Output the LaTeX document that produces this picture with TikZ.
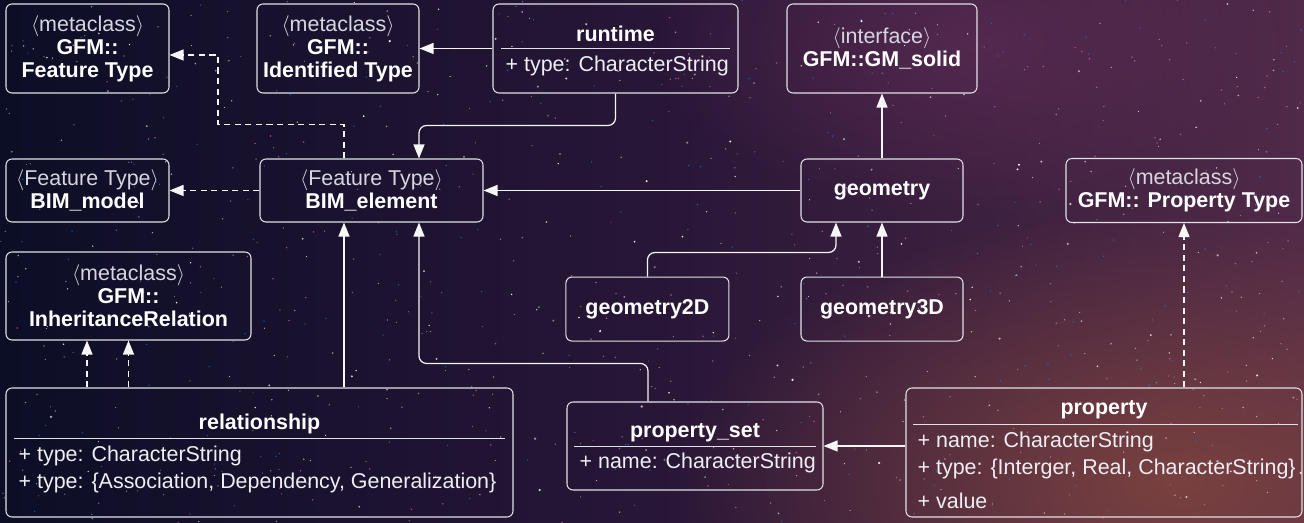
\documentclass[tikz,border=0pt]{standalone}
\usepackage{fontspec}
\setmainfont{Liberation Sans}
\usetikzlibrary{arrows.meta,positioning,calc,fadings}
\definecolor{skyleft}{RGB}{12,14,38}
\definecolor{skymid}{RGB}{40,22,55}
\definecolor{skyright}{RGB}{80,42,72}
\definecolor{glowwarm}{RGB}{130,70,62}
\definecolor{glowpink}{RGB}{100,46,90}
\definecolor{boxline}{RGB}{225,225,232}
\definecolor{stereotext}{RGB}{214,214,224}
\definecolor{attrtext}{RGB}{238,238,244}
\definecolor{arrow}{RGB}{246,246,246}
\tikzfading[name=glowfade, inner color=transparent!0, outer color=transparent!100]
\newcommand{\stype}[1]{\textcolor{stereotext}{$\langle$#1$\rangle$}}

\begin{document}
\begin{tikzpicture}[
  % UML styling
  every node/.style={font=\fontsize{12.2}{13}\selectfont, text=white},
  umlbox/.style={
    draw=boxline,
    rounded corners=0.12cm,
    line width=0.6pt,
    align=center,
    inner sep=0pt
  },
  ctitle/.style={font=\fontsize{12.2}{13}\selectfont\bfseries},
  attr/.style={anchor=west, text=attrtext},
  divider/.style={draw=boxline, line width=0.6pt},
  arr/.style={
    -{Triangle[length=0.28cm, width=0.22cm]},
    color=arrow,
    line width=0.7pt
  },
  darr/.style={arr, dash pattern=on 3.5pt off 2.5pt},
  roundpath/.style={rounded corners=0.15cm}
]
\useasboundingbox (0,0) rectangle (26.08,10.46);

% Night sky
\begin{scope}
\clip (0,0) rectangle (26.08,10.46);
\fill[left color=skyleft, right color=skyright, middle color=skymid] (0,0) rectangle (26.08,10.46);
\fill[glowwarm, path fading=glowfade, opacity=0.85] (23.5,0.8) ellipse (10cm and 5.5cm);
\fill[glowpink, path fading=glowfade, opacity=0.6] (19.5,9.6) ellipse (6.5cm and 3.5cm);
\pgfmathsetseed{2024}
\foreach \s in {1,...,560}{
  \pgfmathsetmacro{\sx}{26.08*rnd}
  \pgfmathsetmacro{\sy}{10.46*rnd}
  \pgfmathsetmacro{\sr}{0.009+0.02*rnd*rnd}
  \pgfmathsetmacro{\so}{0.35+0.6*rnd}
  \fill[white, opacity=\so] (\sx,\sy) circle (\sr);
}
\foreach \s in {1,...,150}{
  \pgfmathsetmacro{\sx}{26.08*rnd}
  \pgfmathsetmacro{\sy}{10.46*rnd}
  \fill[blue!45!cyan, opacity=0.65] (\sx,\sy) circle (0.015);
  \fill[magenta!55!white, opacity=0.6] (26.08-\sx,10.46-\sy) circle (0.017);
}
\end{scope}

% Top row
\node[umlbox, minimum width=3.26cm, minimum height=1.78cm] (feattype) at (1.75,9.49)
  {\stype{metaclass}\\\textbf{GFM::}\\\textbf{Feature Type}};
\node[umlbox, minimum width=3.24cm, minimum height=1.78cm] (identtype) at (6.76,9.49)
  {\stype{metaclass}\\\textbf{GFM::}\\\textbf{Identified Type}};

\node[umlbox, minimum width=4.9cm, minimum height=1.78cm] (runtime) at (12.31,9.49) {};
\node[ctitle] (runtime-t) at ([yshift=-0.6cm]runtime.north) {runtime};
\draw[divider] ([xshift=0.18cm,yshift=-0.9cm]runtime.north west) -- ([xshift=-0.18cm,yshift=-0.9cm]runtime.north east);
\node[attr] (runtime-a) at ([xshift=0.14cm,yshift=-1.24cm]runtime.north west) {+ type: CharacterString};

\node[umlbox, minimum width=3.8cm, minimum height=1.78cm] (gmsolid) at (17.64,9.49)
  {\stype{interface}\\\textbf{GFM::GM\_solid}};

% Middle row
\node[umlbox, minimum width=3.26cm, minimum height=1.26cm] (bimmodel) at (1.75,6.65)
  {\stype{Feature Type}\\\textbf{BIM\_model}};
\node[umlbox, minimum width=4.46cm, minimum height=1.26cm] (bimelement) at (7.43,6.65)
  {\stype{Feature Type}\\\textbf{BIM\_element}};
\node[umlbox, minimum width=3.24cm, minimum height=1.26cm] (geometry) at (17.64,6.65)
  {\textbf{geometry}};
\node[umlbox, minimum width=4.72cm, minimum height=1.28cm] (proptype) at (23.68,6.65)
  {\stype{metaclass}\\\textbf{GFM:: Property Type}};

% Lower row
\node[umlbox, minimum width=4.9cm, minimum height=1.76cm] (inherit) at (2.57,4.54)
  {\stype{metaclass}\\\textbf{GFM::}\\\textbf{InheritanceRelation}};
\node[umlbox, minimum width=3.24cm, minimum height=1.28cm, below=1.08cm of geometry] (geometry3d)
  {\textbf{geometry3D}};
\node[umlbox, minimum width=3.26cm, minimum height=1.28cm, left=1.42cm of geometry3d] (geometry2d)
  {\textbf{geometry2D}};

% Bottom row
\node[umlbox, minimum width=10.14cm, minimum height=2.58cm] (relationship) at (5.19,1.41) {};
\node[ctitle] (relationship-t) at ([yshift=-0.72cm]relationship.north) {relationship};
\draw[divider] ([xshift=0.18cm,yshift=-1.02cm]relationship.north west) -- ([xshift=-0.18cm,yshift=-1.02cm]relationship.north east);
\node[attr] (relationship-a1) at ([xshift=0.14cm,yshift=-1.36cm]relationship.north west) {+ type: CharacterString};
\node[attr] (relationship-a2) at ([xshift=0.14cm,yshift=-1.9cm]relationship.north west) {+ type: \{Association, Dependency, Generalization\}};

\node[umlbox, minimum width=5.12cm, minimum height=1.76cm] (propset) at (13.9,1.54) {};
\node[ctitle] (propset-t) at ([yshift=-0.62cm]propset.north) {property\_set};
\draw[divider] ([xshift=0.16cm,yshift=-0.9cm]propset.north west) -- ([xshift=-0.16cm,yshift=-0.9cm]propset.north east);
\node[attr] (propset-a) at ([xshift=0.14cm,yshift=-1.22cm]propset.north west) {+ name: CharacterString};

\node[umlbox, minimum width=7.92cm, minimum height=2.58cm] (property) at (22.08,1.41) {};
\node[ctitle] (property-t) at ([yshift=-0.44cm]property.north) {property};
\draw[divider] ([xshift=0.16cm,yshift=-0.74cm]property.north west) -- ([xshift=-0.1cm,yshift=-0.74cm]property.north east);
\node[attr] (property-a1) at ([xshift=0.12cm,yshift=-1.08cm]property.north west) {+ name: CharacterString};
\node[attr] (property-a2) at ([xshift=0.12cm,yshift=-1.62cm]property.north west) {+ type: \{Interger, Real, CharacterString\}};
\node[attr] (property-a3) at ([xshift=0.12cm,yshift=-2.26cm]property.north west) {+ value};

% Attachment points
\coordinate (be-n1) at ([xshift=-0.55cm]bimelement.north);
\coordinate (be-n2) at ([xshift=0.95cm]bimelement.north);
\coordinate (be-s1) at ([xshift=-0.55cm]bimelement.south);
\coordinate (be-s2) at ([xshift=0.95cm]bimelement.south);
\coordinate (ih-s1) at ([xshift=-0.83cm]inherit.south);
\coordinate (ge-s1) at ([xshift=-0.92cm]geometry.south);

% Connectors
\draw[arr] (runtime) -- (identtype);
\draw[arr, roundpath] (runtime.south) -- ++(0,-0.64) -| (be-n2);
\draw[darr] (be-n1) -- ++(0,0.68) -- ++(-2.52,0) |- ([yshift=-0.13cm]feattype.east);
\draw[darr] (bimelement) -- (bimmodel);
\draw[arr] (geometry) -- (bimelement);
\draw[arr] (geometry) -- (gmsolid);
\draw[arr, roundpath] (geometry2d.north) -- ++(0,0.48) -| (ge-s1);
\draw[arr] (geometry3d) -- (geometry);
\draw[arr] (relationship.north -| be-s1) -- (be-s1);
\draw[arr, roundpath] ([xshift=-0.94cm]propset.north) -- ++(0,0.76) -| (be-s2);
\draw[darr] (relationship.north -| ih-s1) -- (ih-s1);
\draw[darr] (relationship.north -| inherit.south) -- (inherit.south);
\draw[arr] (propset.east -| property.west) -- (propset.east);
\draw[darr] (property.north -| proptype.south) -- (proptype.south);

\end{tikzpicture}
\end{document}
